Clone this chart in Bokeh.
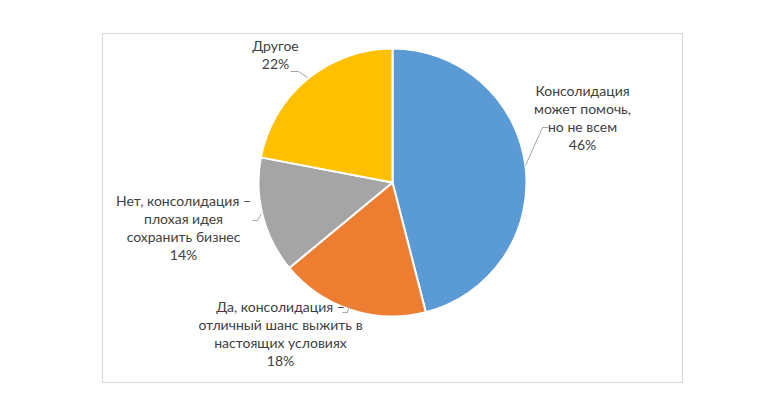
import math
from bokeh.plotting import figure
from bokeh.models import Range1d, ColumnDataSource
from bokeh.embed import file_html
from bokeh.resources import INLINE
from bokeh.core.properties import value

# ---- data ----
categories = [
    ["Консолидация", "может помочь,", "но не всем"],
    ["Да, консолидация –", "отличный шанс выжить в", "настоящих условиях"],
    ["Нет, консолидация –", "плохая идея", "сохранить бизнес"],
    ["Другое"],
]
shares = [46, 18, 14, 22]
colors = ["#5B9BD5", "#ED7D31", "#A5A5A5", "#FFC000"]

# ---- layout (pixel units) ----
W, H = 764, 391
def X(px): return px
def Y(py): return H - py

cx, cy, R = X(392), Y(182), 134

# label anchor (centre of first line) per slice, page px
label_pos = [(582, 90), (280, 306), (183, 200), (275, 45)]
line_gap = 18
leaders = [
    [(548, 127), (542, 127), (525, 165)],
    [(342, 312), (347, 312), (349, 305)],
    [(252, 220), (257, 220), (261, 213)],
    [(290, 71), (298, 71), (307, 77)],
]

p = figure(width=W, height=H, x_range=Range1d(0, W), y_range=Range1d(0, H),
           output_backend="svg", toolbar_location=None, min_border=0)
p.axis.visible = False
p.grid.visible = False
p.outline_line_color = None
p.background_fill_color = "white"
p.border_fill_color = "white"

# chart border box
p.quad(left=[X(102)], right=[X(682)], bottom=[Y(382)], top=[Y(33)],
       fill_color=None, line_color="#D9D9D9", line_width=1.2)

total = sum(shares)
starts, ends = [], []
a = math.pi / 2
for s in shares:
    starts.append(a)
    a -= 2 * math.pi * s / total
    ends.append(a)

src = ColumnDataSource(dict(start=starts, end=ends, color=colors))
p.wedge(x=cx, y=cy, radius=R, start_angle="start", end_angle="end",
        direction="clock", fill_color="color", line_color="white",
        line_width=2, source=src)

tx, ty, tt = [], [], []
for lines, s, (lx, ly) in zip(categories, shares, label_pos):
    allines = list(lines) + [f"{s}%"]
    for i, t in enumerate(allines):
        tx.append(X(lx))
        ty.append(Y(ly + i * line_gap))
        tt.append(t)
p.text(x=tx, y=ty, text=tt, text_align="center", text_baseline="middle",
       text_font=value("Lato"), text_font_size="14px", text_color="#404040")

for pts in leaders:
    p.line([X(u) for u, v in pts], [Y(v) for u, v in pts],
           line_color="#A6A6A6", line_width=1)

open("out.html", "w").write(file_html(p, INLINE))
